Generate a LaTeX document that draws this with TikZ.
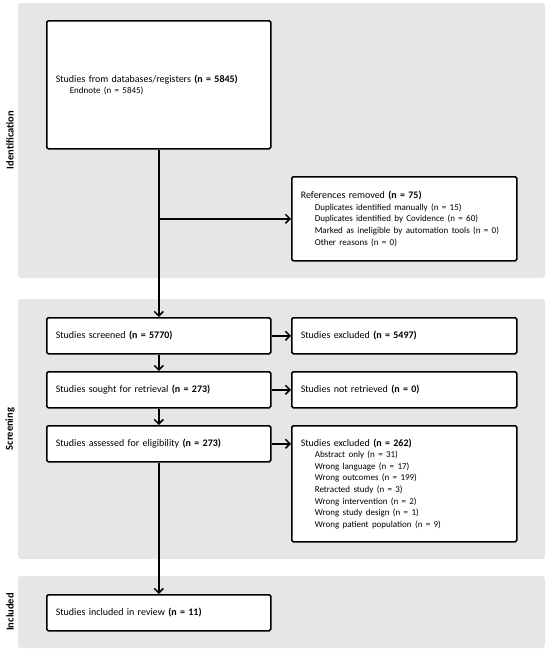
\documentclass[tikz,border=0pt]{standalone}
\usepackage{fontspec}
\setmainfont{Carlito}
\usetikzlibrary{arrows.meta}
\definecolor{panelgray}{RGB}{230,230,230}
\newcommand{\flowsub}[1]{\mbox{\hspace*{14pt}\fontsize{9}{11.4}\selectfont #1}}
\begin{document}
\begin{tikzpicture}[x=1pt,y=-1pt,
  panel/.style={fill=panelgray,draw=none,rounded corners=3pt},
  stagelabel/.style={rotate=90,font=\fontsize{10.5}{11}\selectfont\bfseries,inner sep=0pt},
  flowbox/.style={draw=black,line width=1.6pt,fill=white,rounded corners=1.5pt,
    inner xsep=9pt,inner ysep=0pt,align=left,text width=#1,
    font=\fontsize{10}{11.6}\selectfont},
  conn/.style={line width=1.5pt,-{Straight Barb[length=4.5pt,width=9pt,line width=1.5pt]}},
  plain/.style={line width=1.5pt}
]
\useasboundingbox (0,0) rectangle (550,651);
% panels
\path[panel] (18,3) rectangle (545,278);
\path[panel] (18,299) rectangle (545,559);
\path[panel] (18,576) rectangle (545,648);
\node[stagelabel] (lid) at (10,140) {Identification};
\node[stagelabel] (lsc) at (10,429) {Screening};
\node[stagelabel] (lin) at (10,612) {Included};

% boxes
\node[flowbox=206pt,minimum height=128pt,anchor=north west] (main) at (46,20)
  {Studies from databases/registers \textbf{(n = 5845)}\\
   \flowsub{Endnote (n = 5845)}};
\node[flowbox=207pt,minimum height=84pt,anchor=north west] (rem) at (291,176)
  {References removed \textbf{(n = 75)}\\
   \flowsub{Duplicates identified manually (n = 15)}\\
   \flowsub{Duplicates identified by Covidence (n = 60)}\\
   \flowsub{Marked as ineligible by automation tools (n = 0)}\\
   \flowsub{Other reasons (n = 0)}};
\node[flowbox=206pt,minimum height=36pt,anchor=north west] (scr) at (46,317)
  {Studies screened \textbf{(n = 5770)}};
\node[flowbox=207pt,minimum height=36pt,anchor=north west] (exa) at (291,317)
  {Studies excluded \textbf{(n = 5497)}};
\node[flowbox=206pt,minimum height=36pt,anchor=north west] (sou) at (46,371)
  {Studies sought for retrieval \textbf{(n = 273)}};
\node[flowbox=207pt,minimum height=36pt,anchor=north west] (nre) at (291,371)
  {Studies not retrieved \textbf{(n = 0)}};
\node[flowbox=206pt,minimum height=36pt,anchor=north west] (ass) at (46,425)
  {Studies assessed for eligibility \textbf{(n = 273)}};
\node[flowbox=207pt,minimum height=116pt,anchor=north west] (exb) at (291,425)
  {Studies excluded \textbf{(n = 262)}\\
   \flowsub{Abstract only (n = 31)}\\
   \flowsub{Wrong language (n = 17)}\\
   \flowsub{Wrong outcomes (n = 199)}\\
   \flowsub{Retracted study (n = 3)}\\
   \flowsub{Wrong intervention (n = 2)}\\
   \flowsub{Wrong study design (n = 1)}\\
   \flowsub{Wrong patient population (n = 9)}};
\node[flowbox=206pt,minimum height=36pt,anchor=north west] (inc) at (46,594)
  {Studies included in review \textbf{(n = 11)}};

% connectors
\coordinate (split) at (main.south |- rem.west);
\draw[conn] (main.south) -- (scr.north);
\draw[conn] (split) -- (rem.west);
\draw[conn] (scr.east) -- (exa.west);
\draw[conn] (sou.east) -- (nre.west);
\draw[conn] (ass.east) -- (ass.east -| exb.west);
\draw[conn] (scr.south) -- (sou.north);
\draw[conn] (sou.south) -- (ass.north);
\draw[conn] (ass.south) -- (inc.north);
\end{tikzpicture}
\end{document}
